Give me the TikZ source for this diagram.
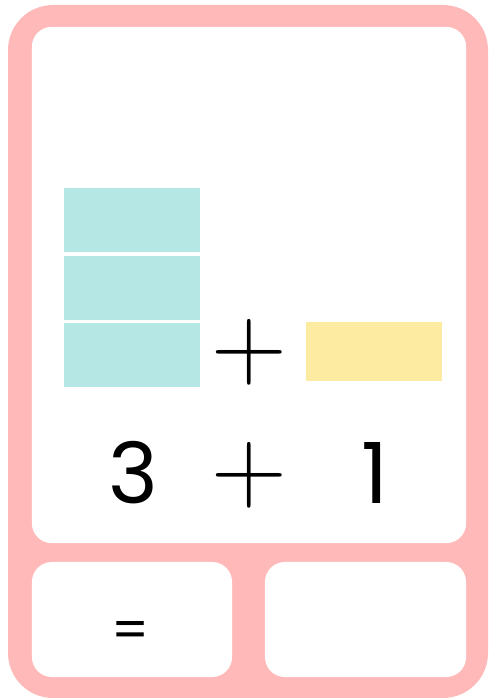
\documentclass[tikz,border=0pt]{standalone}
\usepackage{fontspec}
\setmainfont{Poppins}
\usetikzlibrary{positioning}
\definecolor{cardpink}{HTML}{FFB9B9}
\definecolor{blockteal}{HTML}{B5E7E5}
\definecolor{blockyellow}{HTML}{FDEBA1}
\newcommand{\bigplus}{\scalebox{1.2}{$+$}}

\begin{document}
\begin{tikzpicture}[x=0.01cm,y=-0.01cm,
    panel/.style={fill=white, rounded corners=0.2cm, inner sep=0pt},
    tealblk/.style={fill=blockteal, minimum width=1.36cm, minimum height=0.635cm, inner sep=0pt},
    yellowblk/.style={fill=blockyellow, minimum width=1.36cm, minimum height=0.59cm, inner sep=0pt},
    sym/.style={inner sep=0pt, font=\fontsize{24}{24}\selectfont}
]
    \useasboundingbox (0,0) rectangle (488,698);
    \fill[cardpink, rounded corners=0.45cm] (8,5) rectangle (488,698);
    % white panels
    \node[panel, minimum width=4.34cm, minimum height=5.16cm] (top) at (249,285) {};
    \node[panel, minimum width=2.00cm, minimum height=1.15cm] (left) at (132,619.5) {};
    \node[panel, minimum width=2.01cm, minimum height=1.15cm] (right) at (365.5,619.5) {};
    % blocks
    \node[tealblk] (t1) at (132,220) {};
    \node[tealblk] (t2) at (132,288) {};
    \node[tealblk] (t3) at (132,355) {};
    \node[yellowblk] (y1) at (374,351.5) {};
    % sum
    \node[sym] (p1) at (249,352) {\bigplus};
    \node[sym] (n3) at (133,473) {3};
    \node[sym] (p2) at (249,475) {\bigplus};
    \node[sym] (n1) at (375,473) {1};
    \node[inner sep=0pt, font=\fontsize{15}{15}\selectfont] (eq) at (131,635) {=};
\end{tikzpicture}
\end{document}
